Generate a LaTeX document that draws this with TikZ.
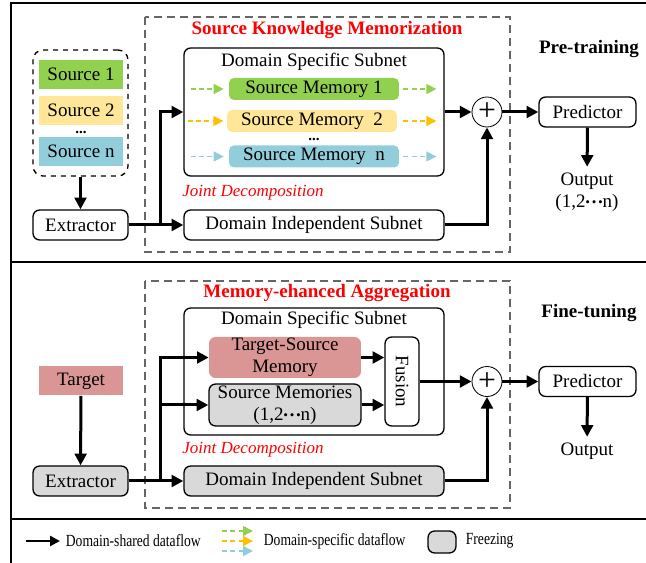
\documentclass[tikz,border=0pt]{standalone}
\usepackage{fontspec}
\usepackage{graphicx}
\setmainfont{Liberation Serif}
\newfontfamily\legendfont[FakeStretch=0.8]{Liberation Serif}
\usetikzlibrary{arrows.meta}
\definecolor{srcgreen}{HTML}{92D050}
\definecolor{srcyellow}{HTML}{FFE699}
\definecolor{srcblue}{HTML}{92CDDC}
\definecolor{arrorange}{HTML}{FFC000}
\definecolor{tgtred}{HTML}{D99694}
\definecolor{frozen}{HTML}{D9D9D9}
\definecolor{stagegray}{HTML}{666666}
\newcommand{\mdots}{\raisebox{0.22em}{\textbf{\kern-0.05em…\kern-0.05em}}}

\begin{document}
\begin{tikzpicture}[x=0.6pt,y=-0.6pt,
  font=\fontsize{11.4}{13.2}\selectfont,
  box/.style={draw,rounded corners=4pt,line width=0.8pt,inner sep=0pt},
  srcbox/.style={fill=#1,minimum width=50.4pt,minimum height=17.4pt,inner sep=0pt},
  membox/.style={fill=#1,rounded corners=3pt,minimum width=102pt,minimum height=13.2pt,inner sep=0pt},
  flow/.style={line width=1.8pt,-{Triangle[length=7pt,width=7pt]}},
  spec/.style={draw=#1,line width=0.9pt,dash pattern=on 3pt off 2pt,-{Triangle[length=6pt,width=6pt]}},
  stagebox/.style={draw=stagegray,line width=0.8pt,dash pattern=on 4.8pt off 3pt},
  title/.style={text=red,font=\fontsize{11.4}{13.2}\selectfont\bfseries},
  phase/.style={font=\fontsize{11.4}{13.2}\selectfont\bfseries},
  joint/.style={text=red,font=\fontsize{10.2}{12}\selectfont\itshape},
  dotsnode/.style={inner sep=0pt,font=\fontsize{9}{9}\selectfont\bfseries},
  legend/.style={font=\legendfont\fontsize{10.2}{12}\selectfont}]
\useasboundingbox (0,0) rectangle (646,563);
\clip (0,0) rectangle (646,563);

\draw[line width=1.2pt] (11,570) -- (11,3) -- (660,3);
\draw[line width=1.2pt] (11,262) -- (660,262);
\draw[line width=1.2pt] (11,519) -- (660,519);

% pre-training
\draw[stagebox] (145,17) rectangle (510,252);
\node[title] (skm) at (327,30) {Source Knowledge Memorization};
\node[phase] (pretrain) at (589,49) {Pre-training};

\node[draw,dashed,rounded corners=6pt,line width=0.8pt,minimum width=57pt,minimum height=75.6pt] (srcs) at (80.5,113) {};
\node[srcbox=srcgreen] (src1) at (81,74.5) {Source 1};
\node[srcbox=srcyellow] (src2) at (81,110.5) {Source 2};
\node[dotsnode] (srcdots) at (81,132) {...};
\node[srcbox=srcblue] (srcn) at (81,151.5) {Source n};
\node[box,minimum width=57pt,minimum height=18pt] (ext1) at (80.5,225) {Extractor};

\node[box,minimum width=156pt,minimum height=76.8pt] (dss1) at (314,112) {};
\node (dsslab1) at (314,62) {Domain Specific Subnet};
\node[membox=srcgreen] (mem1) at (314,89) {Source Memory 1};
\node[membox=srcyellow] (mem2) at (312,121) {Source Memory\enspace 2};
\node[dotsnode] (memdots) at (314,139) {...};
\node[membox=srcblue] (memn) at (314,156.5) {Source Memory\enspace n};
\node[joint] (jd1) at (253,193) {Joint Decomposition};
\node[box,minimum width=156pt,minimum height=18pt] (dis1) at (314,225) {Domain Independent Subnet};

\node[draw,circle,line width=0.5pt,minimum size=18pt,inner sep=0pt,font=\fontsize{19}{19}\selectfont] (sum1) at (487,112) {+};
\node[box,minimum width=58.2pt,minimum height=18pt] (pred1) at (587.5,112) {Predictor};
\node[align=center] (out1) at (587,192) {Output\\(1,2\mdots n)};

\draw[spec=srcgreen] ([xshift=-22.8pt]mem1.west) -- ([xshift=-3pt]mem1.west);
\draw[spec=srcgreen] ([xshift=2.4pt]mem1.east) -- ([xshift=22.2pt]mem1.east);
\draw[spec=arrorange] ([xshift=-23.4pt]mem2.west) -- ([xshift=-2pt]mem2.west);
\draw[spec=arrorange] ([xshift=3.6pt]mem2.east) -- ([xshift=23.4pt]mem2.east);
\draw[spec=srcblue] ([xshift=-22.8pt]memn.west) -- ([xshift=-3pt]memn.west);
\draw[spec=srcblue] ([xshift=2.4pt]memn.east) -- ([xshift=22.2pt]memn.east);

\coordinate (br1) at (160,225);
\draw[flow] (srcs) -- (ext1);
\draw[flow] (ext1) -- (dis1);
\draw[flow] (br1) |- (dss1.west);
\draw[flow] (dss1) -- (sum1);
\draw[flow] (dis1) -| (sum1);
\draw[flow] (sum1) -- (pred1);
\draw[flow] (pred1) -- (out1);

% fine-tuning
\draw[stagebox] (145,281) rectangle (510,508);
\node[title] (mea) at (327,293) {Memory-ehanced Aggregation};
\node[phase] (finetune) at (589,313) {Fine-tuning};

\node[srcbox=tgtred] (tgt) at (81,381) {Target};
\node[box,fill=frozen,minimum width=57pt,minimum height=18pt] (ext2) at (80.5,481) {Extractor};

\node[box,minimum width=156pt,minimum height=76.2pt] (dss2) at (314,371.5) {};
\node (dsslab2) at (314,320) {Domain Specific Subnet};
\node[fill=tgtred,rounded corners=4pt,minimum width=91.2pt,minimum height=24.6pt,inner sep=0pt,align=center] (tsm) at (285,357.5) {Target-Source\\Memory};
\node[box,fill=frozen,minimum width=91.2pt,minimum height=25.2pt,align=center] (sms) at (285,405) {Source Memories\\(1,2\mdots n)};
\node[box,minimum width=20.4pt,minimum height=53.4pt] (fus) at (402,381.5) {\rotatebox{-90}{Fusion}};
\node[joint] (jd2) at (253,450) {Joint Decomposition};
\node[box,fill=frozen,minimum width=156pt,minimum height=18pt] (dis2) at (314,481) {Domain Independent Subnet};

\node[draw,circle,line width=0.5pt,minimum size=18pt,inner sep=0pt,font=\fontsize{19}{19}\selectfont] (sum2) at (487,381.5) {+};
\node[box,minimum width=58.2pt,minimum height=18pt] (pred2) at (587.5,381.5) {Predictor};
\node (out2) at (587,451) {Output};

\coordinate (br2) at (160,481);
\draw[flow] (tgt) -- (ext2);
\draw[flow] (ext2) -- (dis2);
\draw[flow] (br2) |- (tsm);
\draw[flow] (br2) |- (sms);
\draw[flow] (tsm) -- (tsm -| fus.west);
\draw[flow] (sms) -- (sms -| fus.west);
\draw[flow] (fus) -- (sum2);
\draw[flow] (dis2) -| (sum2);
\draw[flow] (sum2) -- (pred2);
\draw[flow] (pred2) -- (out2);

% legend
\coordinate (lgs) at (26,541);
\node[legend,right] (lgstxt) at (60,541) {Domain-shared dataflow};
\draw[line width=1.4pt,-{Triangle[length=6pt,width=6pt]}] (lgs) -- (lgstxt.west);
\coordinate (lgd) at (222,541);
\node[legend,right] (lgdtxt) at (258,541) {Domain-specific dataflow};
\draw[spec=srcgreen] ([yshift=6pt]lgd) -- ([yshift=6pt,xshift=-3pt]lgdtxt.west);
\draw[spec=arrorange] (lgd) -- ([xshift=-3pt]lgdtxt.west);
\draw[spec=srcblue] ([yshift=-6pt]lgd) -- ([yshift=-6pt,xshift=-3pt]lgdtxt.west);
\node[box,fill=frozen,minimum width=16.8pt,minimum height=13.2pt] (lgf) at (442,542) {};
\node[legend,right] (lgftxt) at (460,541) {Freezing};
\end{tikzpicture}
\end{document}
